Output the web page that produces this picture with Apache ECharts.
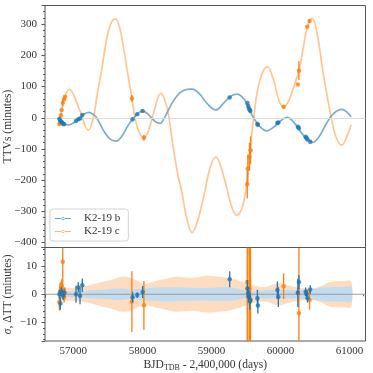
<!DOCTYPE html>
<html>
<head>
<meta charset="utf-8">
<script src="https://cdn.jsdelivr.net/npm/echarts@6/dist/echarts.min.js"></script>
<style>
html, body { margin: 0; padding: 0; background: #fff; }
#main { width: 373px; height: 373px; }
</style>
</head>
<body>
<div id="main"></div>
<script>
// model TTV curves, BJD - 2400000 vs minutes
var bModelDays = [56798,56860,56928,57000,57087,57160,57231,57290,57338,57440,57530,57617,57700,57800,57877,57940,58003,58070,58133,58190,58253,58320,58400,58500,58600,58720,58820,58940,59062,59170,59270,59370,59470,59540,59611,59700,59803,59900,59990,60092,60190,60290,60380,60468,60560,60660,60760,60887,60960,61023];
var bModelTTV = [-3,-18,-23,-17,-2,12,17,10,0,-42,-68,-75,-60,-22,0,15,22,14,0,-13,-18,0,35,70,88,92,78,45,25,45,68,76,60,30,0,-28,-42,-30,-12,1,-14,-45,-68,-79,-60,-20,12,27,18,3];
var cModelDays = [56793,56840,56880,56942,57000,57100,57217,57289,57350,57410,57480,57540,57607,57670,57730,57780,57848,57892,57950,58022,58090,58180,58267,58320,58373,58450,58520,58566,58640,58720,58800,58890,58980,59062,59140,59216,59300,59370,59440,59500,59543,59611,59700,59809,59900,59970,60045,60120,60200,60266,60330,60387,60459,60530,60620,60734,60800,60887,60960,61023];
var cModelTTV = [-24,35,70,91,75,20,-40,0,80,153,250,300,317,290,220,153,62,0,-45,-64,-40,30,78,60,15,-100,-190,-232,-320,-368,-330,-250,-160,-125,-160,-220,-290,-312,-290,-230,-140,0,120,164,120,60,33,55,105,150,225,290,319,270,140,0,-60,-88,-60,-23];

// observed transits: day, TTV, error, residual (minutes)
var bObsDays = [56798,56812,56826,56838,56852,56866,57039,57072,57097,57130,57858,57925,58003,59264,59520,59532,59543,59555,59563,59665,59672,59954,59968,60251,60266,60363,60375,60390,60430];
var bObsTTV = [-3,-10,-13,-16,-19,-21,-10,-5,-2,9,-5,11,22,65,47,38,30,25,22,-20,-22,-17,-15,-29,-34,-61,-65,-70,-77];
var bObsErr = [1.5,2.2,1.5,1.2,1.5,1.5,3.0,1.8,3.0,2.4,1.8,1.0,2.1,2.8,3.0,2.0,2.0,3.0,1.5,3.0,2.8,3.0,3.5,5.0,2.5,1.5,1.2,1.5,1.5];
var bObsResid = [0.0,-3.3,1.0,0.2,-0.5,0.5,0.0,2.4,-0.5,3.2,-1.1,-0.3,0.8,5.3,2.0,0.3,-0.8,-2.5,-1.9,-1.4,-4.0,1.5,-1.0,0.5,4.3,0.9,0.1,-1.4,1.7];
var cObsDays = [56798,56808,56822,56832,56847,56866,56880,57848,58022,59518,59527,59550,59566,60045,60251,60266,60387,60420];
var cObsTTV = [-20,-7,8,25,48,59,67,62,-64,-213,-163,-125,-104,35,107,151,292,310];
var cObsErr = [3,3,2.5,2.5,12,2,2,10.7,8.6,45,45,45,45,4.5,2,30,1.5,3.5];
var cObsResid = [-2.7,1.0,2.0,2.8,11.5,-1.0,0.5,-2.6,-3.9,4.3,-1.0,2.0,-2.0,2.8,0.5,-6.7,0.3,-2.0];

// model spread (sigma half-widths) for the residual panel
var bandDays = [56798,56900,57000,57100,57200,57300,57400,57500,57600,57700,57800,57900,58000,58100,58200,58300,58400,58500,58600,58700,58800,58900,59000,59100,59200,59300,59400,59500,59600,59700,59800,59900,60000,60100,60200,60300,60400,60500,60600,60700,60800,60900,61023];
var bSigma = [1.0,1.0,1.0,1.1,1.3,1.5,1.6,1.8,2.0,2.0,1.8,1.8,2.0,2.2,2.4,2.5,2.5,2.5,2.4,2.3,2.2,2.2,2.3,2.4,2.5,2.3,1.8,1.2,0.9,1.2,1.5,1.5,1.5,1.5,1.5,1.6,1.8,2.0,2.4,2.5,2.6,2.6,2.6];
var cSigma = [2.5,2.2,2.3,2.6,3.0,3.5,4.2,4.8,5.5,6.2,6.0,5.0,3.8,4.0,4.8,5.2,5.8,6.2,6.0,5.8,6.0,6.4,6.5,6.2,6.0,5.5,4.8,4.0,3.2,2.6,2.6,3.5,4.0,3.2,2.6,2.2,2.0,2.2,3.0,4.2,4.6,4.6,4.5];

var X_MIN = 56590, X_MAX = 61230;
var BLUE = '#1f77b4';
var ORANGE = '#ff7f0e';
var FONT = 'Liberation Serif';
var LEGEND_ICON = 'path://M0,1.1 H16 V2.1 H0 Z M6.4,1.6 A1.6,1.6 0 1,0 9.6,1.6 A1.6,1.6 0 1,0 6.4,1.6 Z';

function zip(xs, ys) {
  return xs.map(function (x, i) { return [x, ys[i]]; });
}
function zip3(xs, ys, es) {
  return xs.map(function (x, i) { return [x, ys[i], es[i]]; });
}
function minusFmt(v) {
  return v < 0 ? '\u2212' + Math.abs(v) : String(v);
}

function errBar(params, api) {
  var x = api.value(0), y = api.value(1), e = api.value(2);
  var p1 = api.coord([x, y - e]);
  var p2 = api.coord([x, y + e]);
  var cs = params.coordSys;
  var top = cs.y, bot = cs.y + cs.height;
  var y1 = Math.min(Math.max(p1[1], top), bot);
  var y2 = Math.min(Math.max(p2[1], top), bot);
  return {
    type: 'line',
    shape: { x1: p1[0], y1: y1, x2: p2[0], y2: y2 },
    style: { stroke: api.visual('color'), lineWidth: 1.3 }
  };
}

// whole +/- sigma band drawn once, as one polygon, from every data item
function bandPoly(params, api) {
  if (params.dataIndex !== 0) return { type: 'group', children: [] };
  var n = params.dataInsideLength;
  var upper = [], lower = [];
  for (var j = 0; j < n; j++) {
    var d = api.value(0, j), s = api.value(1, j);
    upper.push(api.coord([d, s]));
    lower.unshift(api.coord([d, -s]));
  }
  return {
    type: 'polygon',
    shape: { points: upper.concat(lower), smooth: 0.3 },
    style: { fill: api.visual('color') }
  };
}

var chart = echarts.init(document.getElementById('main'), null, { renderer: 'canvas' });

var axisLabelStyle = { fontFamily: FONT, fontSize: 11, color: '#333' };

var option = {
  animation: false,
  backgroundColor: '#fff',
  textStyle: { fontFamily: FONT },
  legend: {
    orient: 'vertical',
    left: 50,
    top: 209,
    data: [{ name: 'K2-19 b', icon: LEGEND_ICON }, { name: 'K2-19 c', icon: LEGEND_ICON }],
    itemWidth: 16,
    itemHeight: 3.2,
    itemGap: 2,
    padding: [4, 8, 4, 5],
    backgroundColor: 'rgba(255,255,255,0.85)',
    borderColor: '#d4d4d4',
    borderWidth: 1,
    borderRadius: 3,
    textStyle: { fontFamily: FONT, fontSize: 11, color: '#333', padding: [0, 0, 0, 8] }
  },
  grid: [
    { left: 45, top: 5.5, width: 320.5, height: 242, show: true, borderColor: '#555', borderWidth: 1, backgroundColor: 'transparent', containLabel: false, outerBoundsMode: 'none' },
    { left: 45, top: 247.5, width: 320.5, height: 93.5, show: true, borderColor: '#555', borderWidth: 1, backgroundColor: 'transparent', containLabel: false, outerBoundsMode: 'none' }
  ],
  xAxis: [
    {
      type: 'value', gridIndex: 0, min: X_MIN, max: X_MAX, splitNumber: 5,
      axisLine: { show: false }, axisTick: { show: false }, axisLabel: { show: false }, splitLine: { show: false }
    },
    {
      type: 'value', gridIndex: 1, min: X_MIN, max: X_MAX, splitNumber: 5,
      axisLine: { show: false },
      axisTick: { show: true, inside: false, length: 3.5, lineStyle: { color: '#555' } },
      minorTick: { show: true, splitNumber: 5, length: 2, lineStyle: { color: '#555' } },
      axisLabel: Object.assign({ margin: 5, showMinLabel: false, showMaxLabel: false, formatter: function (v) { return String(v); } }, axisLabelStyle),
      splitLine: { show: false },
      name: 'BJD{sub|TDB} - 2,400,000 (days)',
      nameLocation: 'middle',
      nameMoveOverlap: false,
      nameGap: 17,
      nameTextStyle: {
        fontFamily: FONT, fontSize: 11.5, color: '#333', verticalAlign: 'top',
        rich: { sub: { fontFamily: FONT, fontSize: 8, color: '#333', padding: [6, 0, 0, 0] } }
      }
    }
  ],
  yAxis: [
    {
      type: 'value', gridIndex: 0, min: -416, max: 360, splitNumber: 8,
      axisLine: { show: false },
      axisTick: { show: true, inside: false, length: 3.5, lineStyle: { color: '#555' } },
      minorTick: { show: true, splitNumber: 5, length: 2, lineStyle: { color: '#555' } },
      axisLabel: Object.assign({ margin: 8, showMinLabel: false, showMaxLabel: false, formatter: minusFmt }, axisLabelStyle),
      splitLine: { show: false },
      name: 'TTVs (minutes)',
      nameLocation: 'middle',
      nameMoveOverlap: false,
      nameRotate: 90,
      nameGap: 31,
      nameTextStyle: { fontFamily: FONT, fontSize: 11.5, color: '#333' }
    },
    {
      type: 'value', gridIndex: 1, min: -16.5, max: 16.5, splitNumber: 3,
      axisLine: { show: false },
      axisTick: { show: true, inside: false, length: 3.5, lineStyle: { color: '#555' } },
      minorTick: { show: true, splitNumber: 5, length: 2, lineStyle: { color: '#555' } },
      axisLabel: Object.assign({ margin: 8, showMinLabel: false, showMaxLabel: false, formatter: minusFmt }, axisLabelStyle),
      splitLine: { show: false },
      name: '{i|\u03c3}, \u0394TT (minutes)',
      nameLocation: 'middle',
      nameMoveOverlap: false,
      nameRotate: 90,
      nameGap: 31,
      nameTextStyle: {
        fontFamily: FONT, fontSize: 11.5, color: '#333',
        rich: { i: { fontFamily: FONT, fontStyle: 'italic', fontSize: 11.5, color: '#333' } }
      }
    }
  ],
  series: [
    // top panel: model curves
    {
      name: 'K2-19 b', type: 'line', xAxisIndex: 0, yAxisIndex: 0,
      data: zip(bModelDays, bModelTTV), smooth: 0.4,
      showSymbol: false, symbol: 'circle', symbolSize: 3,
      itemStyle: { color: '#6aa5d2' },
      lineStyle: { color: BLUE, width: 1.7, opacity: 0.6 },
      z: 3,
      markLine: {
        silent: true, symbol: 'none', label: { show: false },
        lineStyle: { color: '#dddddd', width: 1, type: 'solid' },
        data: [{ yAxis: 0 }]
      }
    },
    {
      name: 'K2-19 c', type: 'line', xAxisIndex: 0, yAxisIndex: 0,
      data: zip(cModelDays, cModelTTV), smooth: 0.4,
      showSymbol: false, symbol: 'circle', symbolSize: 3,
      itemStyle: { color: '#ffb27a' },
      lineStyle: { color: ORANGE, width: 1.7, opacity: 0.45 },
      z: 3
    },
    // top panel: observed transits
    {
      name: 'c err', type: 'custom', xAxisIndex: 0, yAxisIndex: 0, clip: true,
      renderItem: errBar, itemStyle: { color: ORANGE },
      data: zip3(cObsDays, cObsTTV, cObsErr), z: 4
    },
    {
      name: 'c obs', type: 'scatter', xAxisIndex: 0, yAxisIndex: 0,
      data: zip(cObsDays, cObsTTV), symbolSize: 4.5, itemStyle: { color: ORANGE }, z: 5
    },
    {
      name: 'b obs', type: 'scatter', xAxisIndex: 0, yAxisIndex: 0,
      data: zip(bObsDays, bObsTTV), symbolSize: 4.5, itemStyle: { color: BLUE }, z: 5
    },
    // bottom panel: sigma bands
    {
      name: 'c band', type: 'custom', xAxisIndex: 1, yAxisIndex: 1,
      renderItem: bandPoly, itemStyle: { color: '#fedcbf' },
      data: zip(bandDays, cSigma), silent: true, z: 1
    },
    {
      name: 'b band', type: 'custom', xAxisIndex: 1, yAxisIndex: 1,
      renderItem: bandPoly, itemStyle: { color: '#c3dbee' },
      data: zip(bandDays, bSigma), silent: true, z: 2
    },
    {
      name: 'zero', type: 'line', xAxisIndex: 1, yAxisIndex: 1,
      data: zip([X_MIN, X_MAX], [0, 0]), symbol: 'none', silent: true,
      lineStyle: { color: '#9a9a9a', width: 1 }, z: 3
    },
    // bottom panel: residuals with error bars
    {
      name: 'c res err', type: 'custom', xAxisIndex: 1, yAxisIndex: 1, clip: true,
      renderItem: errBar, itemStyle: { color: ORANGE },
      data: zip3(cObsDays, cObsResid, cObsErr), z: 4
    },
    {
      name: 'c res', type: 'scatter', xAxisIndex: 1, yAxisIndex: 1,
      data: zip(cObsDays, cObsResid), symbolSize: 4.5, itemStyle: { color: ORANGE }, z: 5
    },
    {
      name: 'b res err', type: 'custom', xAxisIndex: 1, yAxisIndex: 1, clip: true,
      renderItem: errBar, itemStyle: { color: BLUE },
      data: zip3(bObsDays, bObsResid, bObsErr), z: 6
    },
    {
      name: 'b res', type: 'scatter', xAxisIndex: 1, yAxisIndex: 1,
      data: zip(bObsDays, bObsResid), symbolSize: 4.5, itemStyle: { color: BLUE }, z: 7
    }
  ]
};

chart.setOption(option);
</script>
</body>
</html>
